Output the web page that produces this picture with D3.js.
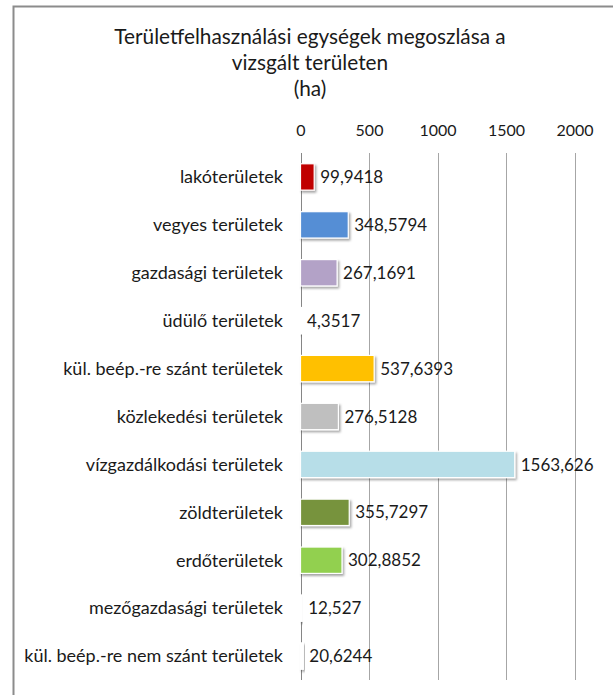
<!DOCTYPE html>
<html>
<head>
<meta charset="utf-8">
<script src="https://cdn.jsdelivr.net/npm/d3@7"></script>
<style>
  html, body { margin: 0; padding: 0; background: #fff; }
  svg { display: block; }
  text { font-family: Lato, "Open Sans", sans-serif; fill: #1a1a1a; }
</style>
</head>
<body>
<svg id="chart" width="613" height="695"></svg>
<script>
// Land-use categories and their area (ha)
const categories = [
  "lakóterületek",
  "vegyes területek",
  "gazdasági területek",
  "üdülő területek",
  "kül. beép.-re szánt területek",
  "közlekedési területek",
  "vízgazdálkodási területek",
  "zöldterületek",
  "erdőterületek",
  "mezőgazdasági területek",
  "kül. beép.-re nem szánt területek"
];
const values = [99.9418, 348.5794, 267.1691, 4.3517, 537.6393, 276.5128, 1563.626, 355.7297, 302.8852, 12.527, 20.6244];
const valueLabels = ["99,9418", "348,5794", "267,1691", "4,3517", "537,6393", "276,5128", "1563,626", "355,7297", "302,8852", "12,527", "20,6244"];
const colors = ["#C00000", "#558ED5", "#B3A2C7", "#FFFFFF", "#FFC000", "#BFBFBF", "#B7DEE8", "#77933C", "#92D050", "#FFFFFF", "#FFFFFF"];
const tickValues = [0, 500, 1000, 1500, 2000];
const titleLines = ["Területfelhasználási egységek megoszlása a", "vizsgált területen", "(ha)"];

const svg = d3.select("#chart");

// chart frame
svg.append("path")
  .attr("d", "M13.5,695 L13.5,6.5 L613,6.5")
  .attr("fill", "none")
  .attr("stroke", "#8c8c8c")
  .attr("stroke-width", 2);

// soft drop shadow for bars
const defs = svg.append("defs");
const f = defs.append("filter").attr("id", "shadow")
  .attr("x", "-20%").attr("y", "-20%").attr("width", "160%").attr("height", "160%");
f.append("feDropShadow")
  .attr("dx", 1.5).attr("dy", 2).attr("stdDeviation", 1.3)
  .attr("flood-color", "#000").attr("flood-opacity", 0.35);

const plot = { left: 300.5, right: 574.5, top: 153, bottom: 680 };

const x = d3.scaleLinear().domain([0, 2000]).range([plot.left, plot.right]);
const y = d3.scaleBand().domain(categories).range([plot.top, plot.bottom]).paddingInner(0.45).paddingOuter(0.225);

// title
svg.append("g").selectAll("text")
  .data(titleLines).join("text")
  .attr("x", 310)
  .attr("y", (d, i) => 44 + i * 26)
  .attr("text-anchor", "middle")
  .attr("font-size", 20.8)
  .text(d => d);

// vertical gridlines
svg.append("g").selectAll("line")
  .data(tickValues).join("line")
  .attr("x1", d => Math.round(x(d)) + 0.5).attr("x2", d => Math.round(x(d)) + 0.5)
  .attr("y1", plot.top).attr("y2", plot.bottom)
  .attr("stroke", d => d === 0 ? "#868686" : "#a6a6a6")
  .attr("stroke-width", 1);

// top axis labels
const xAxis = d3.axisTop(x).tickValues(tickValues).tickSize(0).tickPadding(0).tickFormat(d3.format("d"));
const gx = svg.append("g").attr("transform", `translate(0,${plot.top - 17})`).call(xAxis);
gx.select(".domain").remove();
gx.selectAll("text").attr("font-size", 16).attr("font-family", "Lato, sans-serif").attr("fill", "#1a1a1a");

// category labels
svg.append("g").selectAll("text")
  .data(categories).join("text")
  .attr("x", 283)
  .attr("y", d => y(d) + y.bandwidth() / 2)
  .attr("dy", "0.35em")
  .attr("text-anchor", "end")
  .attr("font-size", 18)
  .text(d => d);

// bars
svg.append("g").selectAll("rect")
  .data(values).join("rect")
  .attr("x", x(0))
  .attr("y", (d, i) => y(categories[i]))
  .attr("width", d => Math.max(x(d) - x(0), 1))
  .attr("height", y.bandwidth())
  .attr("fill", (d, i) => colors[i])
  .attr("stroke", "#ffffff")
  .attr("stroke-width", 1.2)
  .attr("filter", "url(#shadow)");

// value labels
svg.append("g").selectAll("text")
  .data(values).join("text")
  .attr("x", d => x(d) + 6)
  .attr("y", (d, i) => y(categories[i]) + y.bandwidth() / 2)
  .attr("dy", "0.36em")
  .attr("font-size", 17)
  .text((d, i) => valueLabels[i]);
</script>
</body>
</html>
